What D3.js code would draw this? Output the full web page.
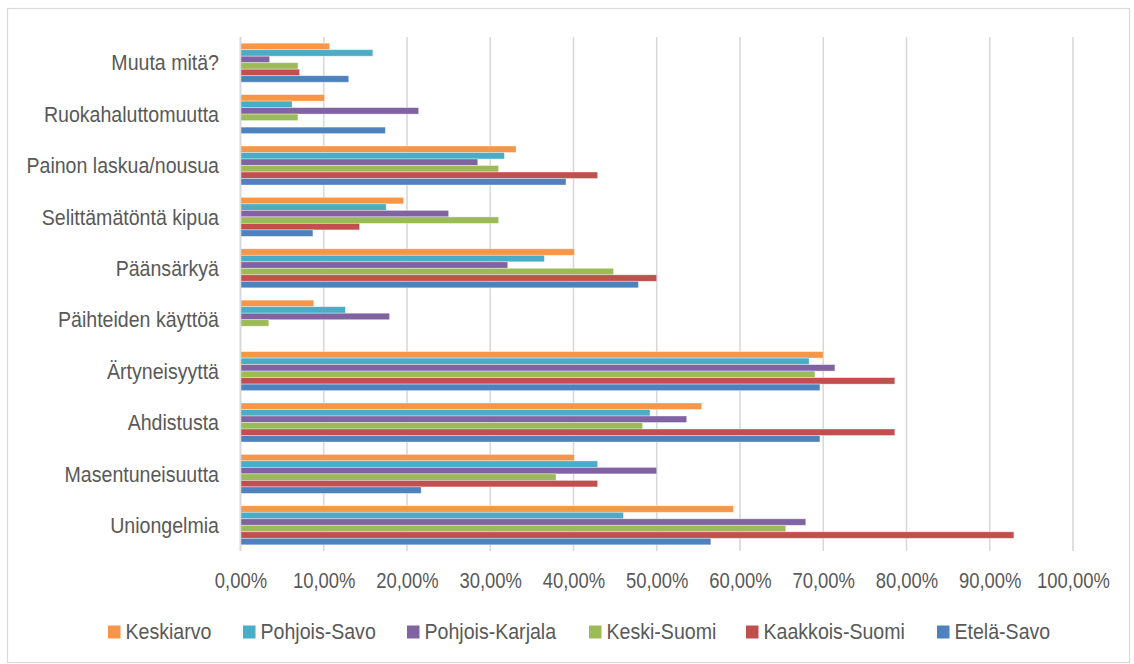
<!DOCTYPE html>
<html>
<head>
<meta charset="utf-8">
<script src="https://cdn.jsdelivr.net/npm/d3@7"></script>
<style>
  html, body { margin: 0; padding: 0; background: #ffffff; }
  svg text { font-family: "Liberation Sans", Arial, sans-serif; fill: #595959; }
</style>
</head>
<body>
<svg id="chart" width="1134" height="664"></svg>
<script>
// Categories, top to bottom
const categories = [
  "Muuta mitä?", "Ruokahaluttomuutta", "Painon laskua/nousua", "Selittämätöntä kipua",
  "Päänsärkyä", "Päihteiden käyttöä", "Ärtyneisyyttä", "Ahdistusta",
  "Masentuneisuutta", "Uniongelmia"
];

// Series names, in the order the bars are stacked within each group (top first)
const seriesNames = ["Keskiarvo", "Pohjois-Savo", "Pohjois-Karjala", "Keski-Suomi", "Kaakkois-Suomi", "Etelä-Savo"];
const seriesColors = ["#F79646", "#4BACC6", "#8064A2", "#9BBB59", "#C0504D", "#4F81BD"];

// Shares (%) per series, in category order
const keskiarvo      = [10.7, 10.1, 33.1, 19.6, 40.1,  8.8, 70.0, 55.4, 40.1, 59.2];
const pohjoisSavo    = [15.9,  6.2, 31.7, 17.5, 36.5, 12.6, 68.3, 49.2, 42.9, 46.0];
const pohjoisKarjala = [ 3.5, 21.4, 28.5, 25.0, 32.1, 17.9, 71.4, 53.6, 50.0, 67.9];
const keskiSuomi     = [ 6.9,  6.9, 31.0, 31.0, 44.8,  3.4, 69.0, 48.3, 37.9, 65.5];
const kaakkoisSuomi  = [ 7.1,  0.0, 42.9, 14.3, 50.0,  0.0, 78.6, 78.6, 42.9, 92.9];
const etelaSavo      = [13.0, 17.4, 39.1,  8.7, 47.8,  0.0, 69.6, 69.6, 21.7, 56.5];

// Axis tick values and labels
const tickValues = [0, 10, 20, 30, 40, 50, 60, 70, 80, 90, 100];
const tickLabels = ["0,00%", "10,00%", "20,00%", "30,00%", "40,00%", "50,00%", "60,00%", "70,00%", "80,00%", "90,00%", "100,00%"];

const seriesValues = [keskiarvo, pohjoisSavo, pohjoisKarjala, keskiSuomi, kaakkoisSuomi, etelaSavo];

// Narrow type: regular sans compressed horizontally
const FONT_SIZE = 22.5;
const NARROW_TICK = "scale(0.82,1)";
const NARROW_TEXT = "scale(0.87,1)";

const svg = d3.select("#chart");

// Chart area frame
svg.append("rect")
  .attr("x", 7.5).attr("y", 8.5)
  .attr("width", 1122).attr("height", 654)
  .attr("fill", "#ffffff")
  .attr("stroke", "#d9d9d9").attr("stroke-width", 1.2);

const plot = { left: 240.5, right: 1073, top: 37, bottom: 551 };

const x = d3.scaleLinear().domain([0, 100]).range([plot.left, plot.right]);
const y = d3.scaleBand().domain(categories).range([plot.top, plot.bottom]).paddingInner(0).paddingOuter(0);
const ys = d3.scaleBand().domain(seriesNames).range([0, y.bandwidth()]).paddingInner(0).paddingOuter(0.95);

// Vertical gridlines
svg.append("g")
  .selectAll("line")
  .data(tickValues)
  .join("line")
  .attr("x1", d => x(d)).attr("x2", d => x(d))
  .attr("y1", plot.top).attr("y2", plot.bottom)
  .attr("stroke", "#d9d9d9").attr("stroke-width", 1.6);

// Bars
const rows = [];
categories.forEach((c, ci) => {
  seriesNames.forEach((s, si) => {
    rows.push({ cat: c, series: s, color: seriesColors[si], value: seriesValues[si][ci] });
  });
});

svg.append("g")
  .selectAll("rect")
  .data(rows.filter(d => d.value > 0))
  .join("rect")
  .attr("x", x(0))
  .attr("y", d => y(d.cat) + ys(d.series))
  .attr("width", d => x(d.value) - x(0))
  .attr("height", ys.bandwidth())
  .attr("fill", d => d.color)
  .attr("stroke", "rgba(255,255,255,0.45)")
  .attr("stroke-width", 0.8);

// Category axis line
svg.append("line")
  .attr("x1", x(0)).attr("x2", x(0))
  .attr("y1", plot.top).attr("y2", plot.bottom)
  .attr("stroke", "#d9d9d9").attr("stroke-width", 1.6);

// Category labels
const yAxis = d3.axisLeft(y).tickSize(0).tickPadding(0);
const gy = svg.append("g").attr("transform", `translate(219,0)`).call(yAxis);
gy.select(".domain").remove();
gy.attr("font-family", null);
gy.selectAll("text")
  .attr("font-size", FONT_SIZE)
  .attr("fill", "#595959")
  .attr("x", 0)
  .attr("dy", "0.34em")
  .attr("transform", NARROW_TEXT);

// Value axis labels
const xAxis = d3.axisBottom(x).tickValues(tickValues)
  .tickFormat((d, i) => tickLabels[i]).tickSize(0).tickPadding(0);
const gx = svg.append("g").attr("transform", `translate(0,588)`).call(xAxis);
gx.select(".domain").remove();
gx.attr("font-family", null);
gx.selectAll("text")
  .attr("font-size", FONT_SIZE)
  .attr("fill", "#595959")
  .attr("dy", 0)
  .attr("y", 0)
  .attr("transform", NARROW_TICK);

// Legend
const legendX = [108, 243, 407, 589, 746, 937];
const legend = svg.append("g")
  .selectAll("g")
  .data(seriesNames)
  .join("g")
  .attr("transform", (d, i) => `translate(${legendX[i]},625.5)`);
legend.append("rect")
  .attr("width", 12.5).attr("height", 13)
  .attr("fill", (d, i) => seriesColors[i]);
legend.append("text")
  .attr("transform", `translate(17.5,13.5) ${NARROW_TEXT}`)
  .attr("font-size", FONT_SIZE)
  .text(d => d);
</script>
</body>
</html>
